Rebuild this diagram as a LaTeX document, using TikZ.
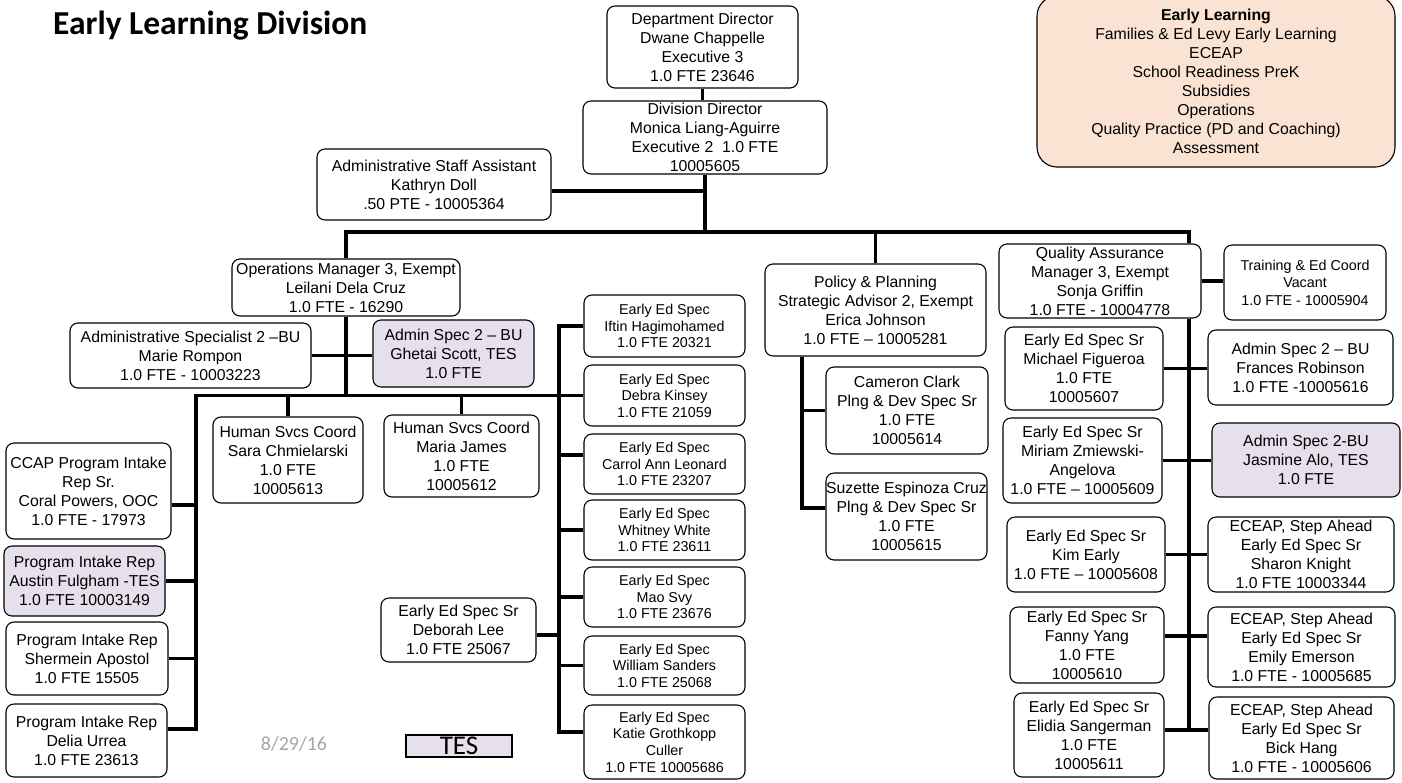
\documentclass[tikz,border=0pt]{standalone}
\usepackage{fontspec}
\setmainfont{Liberation Sans}
\newfontfamily\calib{Carlito}
\usetikzlibrary{calc,backgrounds}
\definecolor{lav}{HTML}{E5E0EC}
\definecolor{peach}{HTML}{FBE3D3}
\definecolor{dategray}{HTML}{A6A6A6}
\newcommand\obox[7]{%
  \node[bx,#2,minimum width={((#5)-(#3))*1pt},minimum height={((#6)-(#4))*1pt}] (#1) at ({((#3)+(#5))/2},{((#4)+(#6))/2}) {#7};}
\tikzset{
  bx/.style={draw=black,line width=1.1pt,rounded corners=8pt,fill=white,align=center,inner sep=0pt,text=black},
  big/.style={font=\fontsize{15.8}{19}\selectfont},
  sm/.style={font=\fontsize{14.3}{16.6}\selectfont},
  smt/.style={font=\fontsize{14.3}{17.5}\selectfont},
  tesfill/.style={fill=lav},
  conn/.style={line width=3.6pt,line join=miter}
}
\begin{document}
\begin{tikzpicture}[x=1pt,y=-1pt]
\useasboundingbox (0,0) rectangle (1402,782);
% title
\node[anchor=base west,inner sep=0pt,font=\calib\bfseries\fontsize{33.5}{33.5}\selectfont] (title) at (53,34) {Early Learning Division};
% top
\obox{dept}{big}{607}{6}{798}{88}{Department Director\\Dwane Chappelle\\Executive 3\\1.0 FTE 23646}
\obox{div}{big}{583}{101}{827}{174}{Division Director\\Monica Liang-Aguirre\\Executive 2~ 1.0 FTE\\10005605}
\obox{asa}{big}{317}{149}{551}{220}{Administrative Staff Assistant\\Kathryn Doll\\.50 PTE - 10005364}
\obox{pink}{big,fill=peach,rounded corners=20pt}{1037}{-4}{1395}{167}{\textbf{Early Learning}\\Families \& Ed Levy Early Learning\\ECEAP\\School Readiness PreK\\Subsidies\\Operations\\Quality Practice (PD and Coaching)\\Assessment}
% operations
\obox{ops}{big}{232}{259}{460}{316}{Operations Manager 3, Exempt\\Leilani Dela Cruz\\1.0 FTE - 16290}
\obox{marie}{big}{70}{323}{311}{388}{Administrative Specialist 2 –BU\\Marie Rompon\\1.0 FTE - 10003223}
\obox{ghetai}{big,tesfill}{373}{320}{534}{387}{Admin Spec 2 – BU\\Ghetai Scott, TES\\1.0 FTE}
\obox{sara}{big}{213}{417}{363}{503}{Human Svcs Coord\\Sara Chmielarski\\1.0 FTE\\10005613}
\obox{maria}{big}{384}{415}{539}{497}{Human Svcs Coord\\Maria James\\1.0 FTE\\10005612}
\obox{ccap}{big}{6}{443}{171}{539}{CCAP Program Intake\\Rep Sr.\\Coral Powers, OOC\\1.0 FTE - 17973}
\obox{austin}{big,tesfill}{4}{546}{165}{616}{Program Intake Rep\\Austin Fulgham -TES\\1.0 FTE 10003149}
\obox{sherm}{big}{6}{622}{168}{695}{Program Intake Rep\\Shermein Apostol\\1.0 FTE 15505}
\obox{delia}{big}{6}{704}{167}{777}{Program Intake Rep\\Delia Urrea\\1.0 FTE 23613}
\obox{deb}{big}{381}{598}{536}{662}{Early Ed Spec Sr\\Deborah Lee\\1.0 FTE 25067}
\obox{iftin}{sm}{584}{295}{745}{357}{Early Ed Spec\\Iftin Hagimohamed\\1.0 FTE 20321}
\obox{debra}{sm}{584}{365}{745}{426}{Early Ed Spec\\Debra Kinsey\\1.0 FTE 21059}
\obox{carrol}{sm}{584}{434}{745}{494}{Early Ed Spec\\Carrol Ann Leonard\\1.0 FTE 23207}
\obox{whit}{sm}{584}{500}{745}{560}{Early Ed Spec\\Whitney White\\1.0 FTE 23611}
\obox{mao}{sm}{584}{567}{745}{627}{Early Ed Spec\\Mao Svy\\1.0 FTE 23676}
\obox{will}{sm}{584}{636}{745}{695}{Early Ed Spec\\William Sanders\\1.0 FTE 25068}
\obox{katie}{sm}{584}{705}{745}{779}{Early Ed Spec\\Katie Grothkopp\\Culler\\1.0 FTE 10005686}
% policy
\obox{pol}{big}{765}{264}{986}{356}{Policy \& Planning\\Strategic Advisor 2, Exempt\\Erica Johnson\\1.0 FTE – 10005281}
\obox{cam}{big}{826}{367}{988}{454}{Cameron Clark\\Plng \& Dev Spec Sr\\1.0 FTE\\10005614}
\obox{suz}{big}{826}{473}{987}{560}{Suzette Espinoza Cruz\\Plng \& Dev Spec Sr\\1.0 FTE\\10005615}
% quality
\obox{qa}{big}{999}{244}{1201}{318}{Quality Assurance\\Manager 3, Exempt\\Sonja Griffin\\1.0 FTE - 10004778}
\obox{train}{smt}{1224}{245}{1386}{320}{Training \& Ed Coord\\Vacant\\1.0 FTE - 10005904}
\obox{mich}{big}{1005}{327}{1163}{410}{Early Ed Spec Sr\\Michael Figueroa\\1.0 FTE\\10005607}
\obox{fran}{big}{1208}{330}{1393}{405}{Admin Spec 2 – BU\\Frances Robinson\\1.0 FTE -10005616}
\obox{miri}{big}{1003}{418}{1162}{503}{Early Ed Spec Sr\\Miriam Zmiewski-\\Angelova\\1.0 FTE – 10005609}
\obox{jas}{big,tesfill}{1212}{423}{1400}{497}{Admin Spec 2-BU\\Jasmine Alo, TES\\1.0 FTE}
\obox{kim}{big}{1007}{517}{1165}{592}{Early Ed Spec Sr\\Kim Early\\1.0 FTE – 10005608}
\obox{shar}{big}{1208}{517}{1394}{592}{ECEAP, Step Ahead\\Early Ed Spec Sr\\Sharon Knight\\1.0 FTE 10003344}
\obox{fanny}{big}{1010}{607}{1164}{683}{Early Ed Spec Sr\\Fanny Yang\\1.0 FTE\\10005610}
\obox{emily}{big}{1208}{607}{1395}{687}{ECEAP, Step Ahead\\Early Ed Spec Sr\\Emily Emerson\\1.0 FTE - 10005685}
\obox{elid}{big}{1014}{693}{1164}{777}{Early Ed Spec Sr\\Elidia Sangerman\\1.0 FTE\\10005611}
\obox{bick}{big}{1209}{697}{1394}{779}{ECEAP, Step Ahead\\Early Ed Spec Sr\\Bick Hang\\1.0 FTE - 10005606}
% footer
\node[inner sep=0pt,text=dategray,font=\calib\fontsize{20}{20}\selectfont] (date) at (294,744) {8/29/16};
\node[draw=black,line width=1.3pt,fill=lav,inner sep=0pt,minimum width=106pt,minimum height=22pt,font=\calib\fontsize{27}{27}\selectfont] (tes) at (459,746) {TES};
% connectors
\begin{pgfonlayer}{background}
\coordinate (busy) at (0,232);
\coordinate (qv) at (1189,0);
\coordinate (pv) at (802,0);
\coordinate (lv) at (196,0);
\coordinate (ev) at (559,0);
\draw[conn] (dept.south) -- (dept.south |- div.north);
\draw[conn] (div.south) -- (div.south |- busy);
\draw[conn] ([yshift=-6.5pt]asa.east) -- ([yshift=-6.5pt]asa.east -| div.south);
\draw[conn] (ops.north) |- (qv |- busy) -- (qv |- qa.north);
\draw[conn] (pol.north) -- (pol.north |- busy);
% operations branch
\draw[conn] (ops.south) -- (ops.south |- debra.west);
\draw[conn] (marie.east) -- (marie.east -| ghetai.west);
\draw[conn] (debra.west) -- (debra.west -| lv) -- ([yshift=11.5pt]delia.east -| lv) -- ([yshift=11.5pt]delia.east);
\draw[conn] ([yshift=-14pt]ccap.east) -- ([yshift=-14pt]ccap.east -| lv);
\draw[conn] (austin.east) -- (austin.east -| lv);
\draw[conn] (sherm.east) -- (sherm.east -| lv);
\draw[conn] (sara.north) -- (sara.north |- debra.west);
\draw[conn] (maria.north) -- (maria.north |- debra.west);
\draw[conn] (iftin.west) -- (iftin.west -| ev) -- ([yshift=10pt]katie.west -| ev) -- ([yshift=10pt]katie.west);
\draw[conn] ([yshift=9pt]carrol.west) -- ([yshift=9pt]carrol.west -| ev);
\draw[conn] (whit.west) -- (whit.west -| ev);
\draw[conn] (mao.west) -- (mao.west -| ev);
\draw[conn] (will.west) -- (will.west -| ev);
\draw[conn] ([yshift=-5pt]deb.east) -- ([yshift=-5pt]deb.east -| ev);
% policy branch
\draw[conn] (pol.south -| pv) -- ([yshift=8.5pt]suz.west -| pv) -- ([yshift=8.5pt]suz.west);
\draw[conn] (cam.west) -- (cam.west -| pv);
% quality branch
\draw[conn] (qa.east) -- (qa.east -| train.west);
\draw[conn] (qv |- qa.south) -- ([yshift=5pt]elid.east -| qv);
\draw[conn] (mich.east) -- (mich.east -| fran.west);
\draw[conn] (miri.east) -- (miri.east -| jas.west);
\draw[conn] (kim.east) -- (kim.east -| shar.west);
\draw[conn] ([yshift=9pt]fanny.east) -- ([yshift=9pt]fanny.east -| emily.west);
\draw[conn] ([yshift=5pt]elid.east) -- ([yshift=5pt]elid.east -| bick.west);
\end{pgfonlayer}
\end{tikzpicture}
\end{document}
